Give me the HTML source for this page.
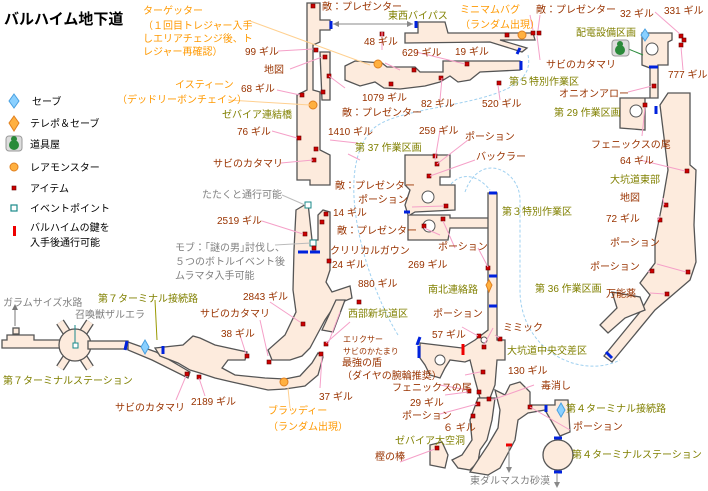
<!DOCTYPE html>
<html><head><meta charset="utf-8"><style>
html,body{margin:0;padding:0;background:#fff}
svg{display:block}
text{font-family:"Liberation Sans","Noto Sans CJK JP",sans-serif;font-size:10px}
.r{fill:#993300}.o{fill:#808000}.y{fill:#ff9900}.g{fill:#808080}
.m{fill:#fdebdd;stroke:#555;stroke-width:1.3}
.it{fill:#cc0000;stroke:#660000;stroke-width:.6}
.pl{stroke:#f5a0c8;stroke-width:1;fill:none}
.dr{stroke:#0022dd;stroke-width:3}
</style></head><body>
<svg width="708" height="491" viewBox="0 0 708 491" xmlns="http://www.w3.org/2000/svg">
<text x="4" y="24" style="font-size:15px;font-weight:bold" fill="#000">バルハイム地下道</text>
<!-- legend -->
<polygon points="14,94 19,101 14,108 9,101" fill="#8ad0ff" stroke="#4aa0e0"/>
<text x="32" y="105" fill="#000">セーブ</text>
<polygon points="14,116 19,123 14,131 9,123" fill="#ffb040" stroke="#e08020"/>
<text x="30" y="127" fill="#000">テレポ＆セーブ</text>
<rect x="6" y="136" width="16" height="15" rx="3" fill="#ddd" stroke="#999"/><circle cx="14" cy="145" r="5" fill="#2a8a3a"/><circle cx="14" cy="139" r="3" fill="#2a8a3a"/>
<text x="30" y="148" fill="#000">道具屋</text>
<circle cx="14" cy="167" r="4" fill="#ffb040" stroke="#e08020"/>
<text x="30" y="171" fill="#000">レアモンスター</text>
<rect x="12" y="186" width="4" height="4" class="it"/>
<text x="30" y="192" fill="#000">アイテム</text>
<rect x="11" y="205" width="6" height="6" fill="#fff" stroke="#1a8a8a" stroke-width="1.2"/>
<text x="30" y="212" fill="#000">イベントポイント</text>
<rect x="13" y="226" width="3" height="10" fill="#ee0000"/>
<text x="30" y="231" fill="#000">バルハイムの鍵を</text>
<text x="30" y="246" fill="#000">入手後通行可能</text>

<!-- dotted curves -->
<path d="M528,55 C540,110 400,100 372,130 C330,175 370,290 398,335" stroke="#9fd0f0" stroke-dasharray="3,2" fill="none"/>
<path d="M465,192 C480,150 520,170 520,200 L520,290 C520,350 580,380 620,360" stroke="#9fd0f0" stroke-dasharray="3,2" fill="none"/>
<path d="M448,188 C460,170 478,175 490,190" stroke="#9fd0f0" stroke-dasharray="3,2" fill="none"/>

<!-- 7th terminal station -->
<polygon class="m" points="2,348 2,340 7,340 7,335 34,335 34,340 60,340 60,348"/>
<rect x="13" y="328" width="6" height="6" class="m"/>
<line x1="15" y1="326" x2="15" y2="307" stroke="#777"/><polygon points="12,310 15,304 18,310" fill="#777"/>
<path d="M60,322 L90,368 M90,322 L60,368" stroke="#555" stroke-width="9"/>
<path d="M60,322 L90,368 M90,322 L60,368" stroke="#fdebdd" stroke-width="6.5"/>
<circle cx="75" cy="345" r="16" class="m"/>
<rect x="88" y="341" width="40" height="8" class="m"/>
<rect x="73" y="343" width="5" height="5" fill="#fff" stroke="#1a8a8a"/>
<polygon class="m" points="128,342 156,352 190,372 188,378 152,360 128,350"/>
<polygon class="m" points="155,348 183,345 193,336 200,338 215,345 247,352 245,360 228,360 222,368 235,375 265,378 285,379 300,376 312,363 318,353 323,357 318,375 305,386 285,389 268,390 250,386 232,382 215,378 200,373 190,370 178,363 160,356"/>
<line class="dr" x1="127" y1="341" x2="125" y2="350"/>
<line class="dr" x1="163" y1="346" x2="163" y2="354"/>
<polygon points="145,340 149,347 145,354 141,347" fill="#8ad0ff" stroke="#4aa0e0"/>
<line x1="157" y1="340" x2="155" y2="300" stroke="#999900"/>

<!-- west column -->
<polygon class="m" points="307,3 320,3 320,20 330,20 330,30 320,30 320,42 313,45 313,90 320,92 320,150 330,155 330,185 310,185 310,180 297,180 297,95 307,90"/>
<polygon class="m" points="320,52 330,52 330,100 322,100"/>
<polygon class="m" points="296,210 308,203 312,240 318,240 318,215 323,210 330,212 330,270 326,282 332,292 350,286 352,298 335,305 325,320 318,333 310,348 302,356 290,360 272,360 268,350 285,335 296,312 293,290 294,250"/>
<polygon class="m" points="322,330 336,300 345,300 333,332"/>
<line class="dr" x1="331" y1="21" x2="331" y2="29"/>
<line class="dr" x1="298" y1="252" x2="308" y2="252"/><line class="dr" x1="310" y1="252" x2="320" y2="252"/>
<rect x="305" y="202" width="6" height="6" fill="#fff" stroke="#1a8a8a"/>
<rect x="310" y="240" width="6" height="6" fill="#fff" stroke="#1a8a8a"/>
<line x1="333" y1="24" x2="413" y2="24" stroke="#888"/><polygon points="333,24 339,21 339,27" fill="#888"/><polygon points="413,24 407,21 407,27" fill="#888"/>

<!-- top bypass -->
<polygon class="m" points="405,33 418,33 418,22 445,22 448,33 533,33 535,40 500,40 527,48 522,52 490,42 405,43"/>
<line class="dr" x1="416" y1="21" x2="416" y2="28"/>
<line class="dr" x1="520" y1="48" x2="517" y2="54"/>
<polygon class="m" points="345,66 355,61 382,63 387,67 415,67 420,72 443,72 443,61 520,61 520,70 480,72 470,80 458,82 450,76 440,82 425,86 400,89 384,88 375,82 360,86 345,80"/>
<line class="dr" x1="521" y1="61" x2="521" y2="70"/>

<!-- center blocks -->
<polygon class="m" points="405,155 450,155 450,177 440,177 440,185 455,185 455,210 415,212 410,215 450,215 450,218 495,218 495,228 450,228 448,240 408,240 408,215 405,205 410,190 405,185"/>
<circle cx="428" cy="197" r="6" fill="#fff" stroke="#555"/>
<circle cx="429" cy="226" r="6" fill="#fff" stroke="#555"/>
<line class="dr" x1="404" y1="212" x2="410" y2="212"/>

<!-- vertical corridor & center -->
<polygon class="m" points="488,193 497,193 497,340 505,340 505,360 497,360 495,385 490,398 480,398 475,380 470,360 465,362 450,360 445,368 440,378 430,375 425,365 420,358 420,343 462,348 475,340 488,330"/>
<circle cx="440" cy="360" r="5" fill="#fff" stroke="#555"/>
<circle cx="484" cy="340" r="3" fill="#fff" stroke="#555"/>
<line class="dr" x1="489" y1="193" x2="497" y2="193"/>
<line class="dr" x1="489" y1="276" x2="497" y2="276"/><line class="dr" x1="489" y1="306" x2="497" y2="306"/>
<line class="dr" x1="419" y1="346" x2="419" y2="358"/><line class="dr" x1="420" y1="337" x2="417" y2="345"/>
<line x1="463" y1="344" x2="463" y2="355" stroke="#ee0000" stroke-width="3"/>
<polygon points="489,280 492,285 489,292 486,285" fill="#ffb040" stroke="#e08020"/>
<!-- bottom caves -->
<polygon class="m" points="478,398 495,398 492,420 487,440 480,450 478,462 470,470 458,468 452,460 462,455 472,440 470,420"/>
<polygon class="m" points="495,390 505,395 510,385 520,382 530,392 530,405 555,405 555,400 568,400 570,432 560,436 545,410 528,413 518,420 515,440 507,455 500,468 488,475 470,472 478,460 488,445 498,428 500,410"/>
<polygon class="m" points="430,445 442,442 448,455 445,468 430,465"/>
<circle cx="558" cy="455" r="15" class="m"/>
<line class="dr" x1="546" y1="405" x2="546" y2="412"/><line class="dr" x1="554" y1="438" x2="562" y2="438"/><line class="dr" x1="554" y1="472" x2="562" y2="472"/>
<line x1="557" y1="473" x2="557" y2="485" stroke="#888"/><polygon points="554,482 557,488 560,482" fill="#888"/>
<line x1="506" y1="445" x2="512" y2="445" stroke="#ee0000" stroke-width="3"/>
<line x1="509" y1="446" x2="509" y2="470" stroke="#888"/><polygon points="506,467 509,473 512,467" fill="#888"/>
<polygon points="561,403 565,410 561,417 557,410" fill="#8ad0ff" stroke="#4aa0e0"/>

<!-- right side -->
<polygon class="m" points="642,33 672,33 672,40 668,42 668,65 658,65 658,98 645,98 645,130 620,128 620,98 650,98 650,68 642,65"/>
<circle cx="652" cy="49" r="6" fill="#fff" stroke="#555"/>
<circle cx="636" cy="111" r="6" fill="#fff" stroke="#555"/>
<line class="dr" x1="649" y1="67" x2="658" y2="67"/>
<line class="dr" x1="656" y1="106" x2="656" y2="114"/>
<polygon class="m" points="660,105 668,93 690,93 690,165 696,170 694,225 696,262 690,280 655,310 612,362 604,356 640,312 650,295 640,283 655,263 655,240 662,205 668,170"/>
<polygon class="m" points="612,292 640,297 645,310 625,318 608,333 600,325 617,308"/>
<line class="dr" x1="606" y1="352" x2="612" y2="358"/>
<line x1="626" y1="48" x2="643" y2="55" stroke="#2a8a3a"/>
<rect x="612" y="40" width="17" height="16" rx="3" fill="#ddd" stroke="#999"/><circle cx="620" cy="50" r="5" fill="#2a8a3a"/><circle cx="620" cy="44" r="3" fill="#2a8a3a"/>
<polygon points="645,29 649,35 645,41 641,35" fill="#8ad0ff" stroke="#4aa0e0"/>

<!-- rare monsters -->
<circle cx="313" cy="105" r="4" fill="#ffb040" stroke="#e08020"/>
<circle cx="378" cy="64" r="4" fill="#ffb040" stroke="#e08020"/>
<circle cx="522" cy="35" r="4" fill="#ffb040" stroke="#e08020"/>
<circle cx="284" cy="382" r="4" fill="#ffb040" stroke="#e08020"/>
<line x1="250" y1="21" x2="370" y2="65" stroke="#ffd090"/>
<line x1="228" y1="100" x2="310" y2="105" stroke="#ffd090"/>
<line x1="288" y1="388" x2="290" y2="408" stroke="#ffd090"/>

<!-- items -->
<g class="it">
<rect x="311" y="4" width="4" height="4"/><rect x="314" y="48" width="4" height="4"/><rect x="323" y="55" width="4" height="4"/><rect x="327" y="74" width="4" height="4"/><rect x="321" y="90" width="4" height="4"/><rect x="300" y="93" width="4" height="4"/><rect x="297" y="136" width="4" height="4"/><rect x="314" y="147" width="4" height="4"/><rect x="312" y="158" width="4" height="4"/><rect x="324" y="212" width="4" height="4"/><rect x="320" y="220" width="4" height="4"/><rect x="303" y="232" width="4" height="4"/><rect x="312" y="246" width="4" height="4"/><rect x="327" y="259" width="4" height="4"/><rect x="357" y="300" width="4" height="4"/><rect x="301" y="322" width="4" height="4"/><rect x="324" y="342" width="4" height="4"/><rect x="319" y="352" width="4" height="4"/><rect x="245" y="354" width="4" height="4"/><rect x="267" y="360" width="4" height="4"/><rect x="185" y="372" width="4" height="4"/><rect x="197" y="375" width="4" height="4"/>
<rect x="380" y="32" width="4" height="4"/><rect x="505" y="33" width="4" height="4"/><rect x="531" y="31" width="4" height="4"/><rect x="537" y="31" width="4" height="4"/><rect x="412" y="68" width="4" height="4"/><rect x="389" y="82" width="4" height="4"/><rect x="439" y="76" width="4" height="4"/><rect x="497" y="81" width="4" height="4"/><rect x="465" y="62" width="4" height="4"/>
<rect x="433" y="154" width="4" height="4"/><rect x="435" y="162" width="4" height="4"/><rect x="427" y="174" width="4" height="4"/><rect x="444" y="204" width="4" height="4"/><rect x="441" y="217" width="4" height="4"/><rect x="422" y="224" width="4" height="4"/>
<rect x="486" y="266" width="4" height="4"/><rect x="477" y="334" width="4" height="4"/><rect x="482" y="345" width="4" height="4"/><rect x="498" y="337" width="4" height="4"/><rect x="481" y="370" width="4" height="4"/><rect x="467" y="389" width="4" height="4"/><rect x="477" y="390" width="4" height="4"/><rect x="476" y="402" width="4" height="4"/><rect x="487" y="397" width="4" height="4"/><rect x="471" y="414" width="4" height="4"/><rect x="435" y="446" width="4" height="4"/><rect x="528" y="405" width="4" height="4"/>
<rect x="679" y="34" width="4" height="4"/><rect x="682" y="38" width="4" height="4"/><rect x="679" y="43" width="4" height="4"/><rect x="652" y="84" width="4" height="4"/><rect x="643" y="103" width="4" height="4"/><rect x="685" y="169" width="4" height="4"/><rect x="664" y="203" width="4" height="4"/><rect x="658" y="218" width="4" height="4"/><rect x="650" y="269" width="4" height="4"/><rect x="686" y="270" width="4" height="4"/><rect x="665" y="292" width="4" height="4"/>
</g>

<!-- pink leader lines -->
<g class="pl">
<path d="M278,51 L313,49"/><path d="M290,69 L322,57"/><path d="M277,90 L300,95"/><path d="M272,131 L297,138"/><path d="M281,163 L313,160"/><path d="M262,221 L303,234"/><path d="M270,302 L300,322"/><path d="M260,320 L268,356"/><path d="M240,335 L246,354"/><path d="M176,400 L186,376"/><path d="M205,396 L199,378"/><path d="M320,388 L322,356"/><path d="M340,312 L328,344"/><path d="M350,322 L326,343"/><path d="M357,143 L330,140"/><path d="M345,88 L329,76"/>
<path d="M382,50 L382,32"/><path d="M416,52 L465,64"/><path d="M385,63 L400,70"/><path d="M440,100 L442,78"/><path d="M500,100 L498,85"/><path d="M530,15 L533,30"/><path d="M540,15 L538,30"/><path d="M540,60 L537,36"/><path d="M655,12 L680,34"/><path d="M683,70 L681,47"/><path d="M628,92 L652,86"/><path d="M642,136 L645,107"/><path d="M640,160 L685,171"/><path d="M663,198 L664,205"/><path d="M660,216 L658,220"/><path d="M648,272 L650,271"/><path d="M657,264 L686,272"/><path d="M650,293 L665,294"/>
<path d="M440,130 L435,160"/><path d="M468,140 L437,164"/><path d="M475,160 L430,176"/><path d="M412,207 L444,206"/><path d="M440,235 L424,228"/><path d="M455,248 L443,221"/><path d="M478,248 L488,267"/><path d="M493,328 L484,345"/><path d="M462,327 L478,336"/><path d="M495,335 L499,338"/><path d="M465,375 L480,372"/><path d="M440,385 L468,390"/><path d="M445,395 L468,392"/><path d="M440,414 L477,404"/><path d="M492,400 L534,385"/><path d="M530,407 L570,430"/><path d="M400,462 L435,449"/><path d="M348,154 L360,160"/>
</g>
<line x1="282" y1="195" x2="305" y2="205" stroke="#bbb"/>
<line x1="275" y1="245" x2="311" y2="243" stroke="#bbb"/>
<line x1="75" y1="325" x2="75" y2="343" stroke="#1a8a8a"/>

<!-- orange texts -->
<g class="y">
<text x="143" y="14">ターゲッター</text><text x="143" y="29">（１回目トレジャー入手</text><text x="143" y="42">しエリアチェンジ後、ト</text><text x="143" y="55">レジャー再確認）</text>
<text x="175" y="88">イスティーン</text><text x="117" y="103">（デッドリーボンチェイン）</text>
<text x="460" y="13">ミニマムバグ</text><text x="460" y="28">（ランダム出現）</text>
<text x="268" y="414">ブラッディー</text><text x="268" y="430">（ランダム出現）</text>
</g>
<!-- olive -->
<g class="o">
<text x="222" y="118">ゼバイア連結橋</text><text x="388" y="19">東西バイパス</text><text x="509" y="85">第５特別作業区</text><text x="576" y="36">配電設備区画</text><text x="554" y="116">第 29 作業区画</text><text x="355" y="151">第 37 作業区画</text><text x="502" y="215">第３特別作業区</text><text x="610" y="183">大坑道東部</text><text x="428" y="293">南北連絡路</text><text x="535" y="292">第 36 作業区画</text><text x="348" y="317">西部新坑道区</text><text x="507" y="354">大坑道中央交差区</text><text x="566" y="412">第４ターミナル接続路</text><text x="572" y="458">第４ターミナルステーション</text><text x="395" y="444">ゼバイア大空洞</text><text x="98" y="302">第７ターミナル接続路</text><text x="3" y="384">第７ターミナルステーション</text>
</g>
<!-- grey -->
<g class="g">
<text x="202" y="198">たたくと通行可能</text><text x="175" y="251">モブ：｢謎の男｣討伐し、</text><text x="175" y="265">５つのボトルイベント後</text><text x="175" y="279">ムラマタ入手可能</text><text x="3" y="306">ガラムサイズ水路</text><text x="75" y="318">召喚獣ザルエラ</text><text x="470" y="484">東ダルマスカ砂漠</text>
</g>
<!-- dark red -->
<g class="r">
<text x="322" y="10">敵：プレゼンター</text><text x="245" y="55">99 ギル</text><text x="264" y="73">地図</text><text x="241" y="92">68 ギル</text><text x="237" y="135">76 ギル</text><text x="213" y="167">サビのカタマリ</text><text x="342" y="116">敵：プレゼンター</text><text x="328" y="135">1410 ギル</text><text x="335" y="189">敵：プレゼンター</text><text x="333" y="216">14 ギル</text><text x="337" y="234">敵：プレゼンター</text><text x="217" y="224">2519 ギル</text><text x="330" y="254">クリリカルガウン</text><text x="332" y="268">24 ギル</text><text x="358" y="287">880 ギル</text><text x="243" y="300">2843 ギル</text><text x="200" y="317">サビのカタマリ</text><text x="221" y="337">38 ギル</text><text x="319" y="400">37 ギル</text><text x="115" y="411">サビのカタマリ</text><text x="191" y="405">2189 ギル</text>
<text x="343" y="342" style="font-size:8px">エリクサー</text><text x="343" y="354" style="font-size:8px">サビのかたまり</text><text x="342" y="366">最強の盾</text><text x="342" y="379">（ダイヤの腕輪推奨）</text>
<text x="364" y="45">48 ギル</text><text x="402" y="56">629 ギル</text><text x="455" y="55">19 ギル</text><text x="536" y="13">敵：プレゼンター</text><text x="546" y="68">サビのカタマリ</text><text x="362" y="101">1079 ギル</text><text x="421" y="107">82 ギル</text><text x="482" y="107">520 ギル</text>
<text x="620" y="17">32 ギル</text><text x="664" y="14">331 ギル</text><text x="668" y="78">777 ギル</text><text x="559" y="97">オニオンアロー</text><text x="591" y="148">フェニックスの尾</text><text x="620" y="164">64 ギル</text><text x="620" y="201">地図</text><text x="606" y="222">72 ギル</text><text x="610" y="246">ポーション</text><text x="590" y="270">ポーション</text><text x="606" y="297">万能薬</text>
<text x="419" y="134">259 ギル</text><text x="465" y="140">ポーション</text><text x="476" y="160">バックラー</text><text x="358" y="203">ポーション</text><text x="438" y="250">ポーション</text><text x="408" y="268">269 ギル</text><text x="433" y="317">ポーション</text><text x="432" y="338">57 ギル</text><text x="503" y="331">ミミック</text><text x="508" y="374">130 ギル</text><text x="541" y="389">毒消し</text><text x="392" y="391">フェニックスの尾</text><text x="410" y="406">29 ギル</text><text x="402" y="419">ポーション</text><text x="443" y="431">６ ギル</text><text x="375" y="460">樫の棒</text><text x="573" y="430">ポーション</text>
</g>
</svg>
</body></html>
